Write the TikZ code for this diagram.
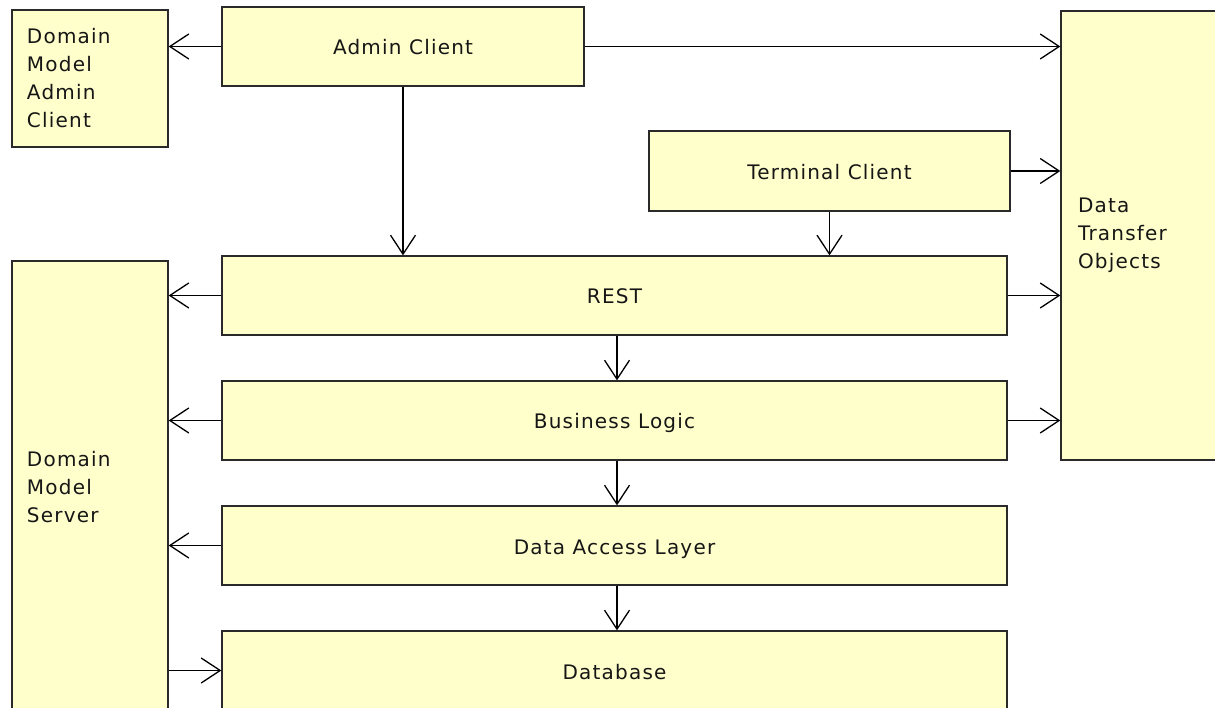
\documentclass[tikz,border=0pt]{standalone}
\usepackage{fontspec}
\setmainfont{DejaVu Sans}[LetterSpace=6]
\usetikzlibrary{arrows.meta}
\definecolor{boxfill}{HTML}{FFFFCC}
\definecolor{boxline}{HTML}{2A2A2A}
\definecolor{textcol}{HTML}{161616}
\begin{document}
\begin{tikzpicture}[x=1pt,y=1pt,
  box/.style={draw=boxline, fill=boxfill, line width=1.3pt, rectangle,
    inner sep=0pt, text=textcol,
    font=\fontsize{20}{28}\selectfont},
  layer/.style={box, text height=17pt, text depth=0pt},
  sidebox/.style={box, align=left, text width=#1},
  link/.style={draw=black, line width=1.3pt,
    -{Straight Barb[length=19pt,width=25pt]}}]
\clip (0,0) rectangle (1215,707);
\fill[white] (0,0) rectangle (1215,707);

% main layers
\node[layer, minimum width=362pt, minimum height=79pt] (admin) at (403,660.5) {Admin Client};
\node[layer, minimum width=361pt, minimum height=80pt] (term) at (829.5,536) {Terminal Client};
\node[layer, minimum width=785pt, minimum height=79pt] (rest) at (614.5,411.5) {REST};
\node[layer, minimum width=785pt, minimum height=79pt] (logic) at (614.5,286.5) {Business Logic};
\node[layer, minimum width=785pt, minimum height=79pt] (dal) at (614.5,161.5) {Data Access Layer};
\node[layer, minimum width=785pt, minimum height=79pt] (db) at (614.5,36.5) {Database};

% side boxes
\node[sidebox=126pt, minimum width=156pt, minimum height=137pt] (dmac) at (90,628.5)
  {Domain\\Model\\Admin\\Client};
\node[sidebox=126pt, minimum width=156pt, minimum height=452pt] (dms) at (90,220)
  {Domain\\Model\\Server};
\node[sidebox=136pt, minimum width=170pt, minimum height=449pt] (dto) at (1146,471.5)
  {Data\\Transfer\\Objects};

% dependencies
\draw[link] (admin.west) -- (admin.west -| dmac.east);
\draw[link] (admin.east) -- (admin.east -| dto.west);
\draw[link] (admin.south) -- (admin.south |- rest.north);
\draw[link] (term.east) -- (term.east -| dto.west);
\draw[link] (term.south) -- (term.south |- rest.north);
\draw[link] (rest.west) -- (rest.west -| dms.east);
\draw[link] (rest.east) -- (rest.east -| dto.west);
\draw[link] ([xshift=2.5pt]rest.south) -- ([xshift=2.5pt]logic.north);
\draw[link] (logic.west) -- (logic.west -| dms.east);
\draw[link] (logic.east) -- (logic.east -| dto.west);
\draw[link] ([xshift=2.5pt]logic.south) -- ([xshift=2.5pt]dal.north);
\draw[link] (dal.west) -- (dal.west -| dms.east);
\draw[link] ([xshift=2.5pt]dal.south) -- ([xshift=2.5pt]db.north);
\draw[link] (dms.east |- db.west) -- (db.west);
\end{tikzpicture}
\end{document}
